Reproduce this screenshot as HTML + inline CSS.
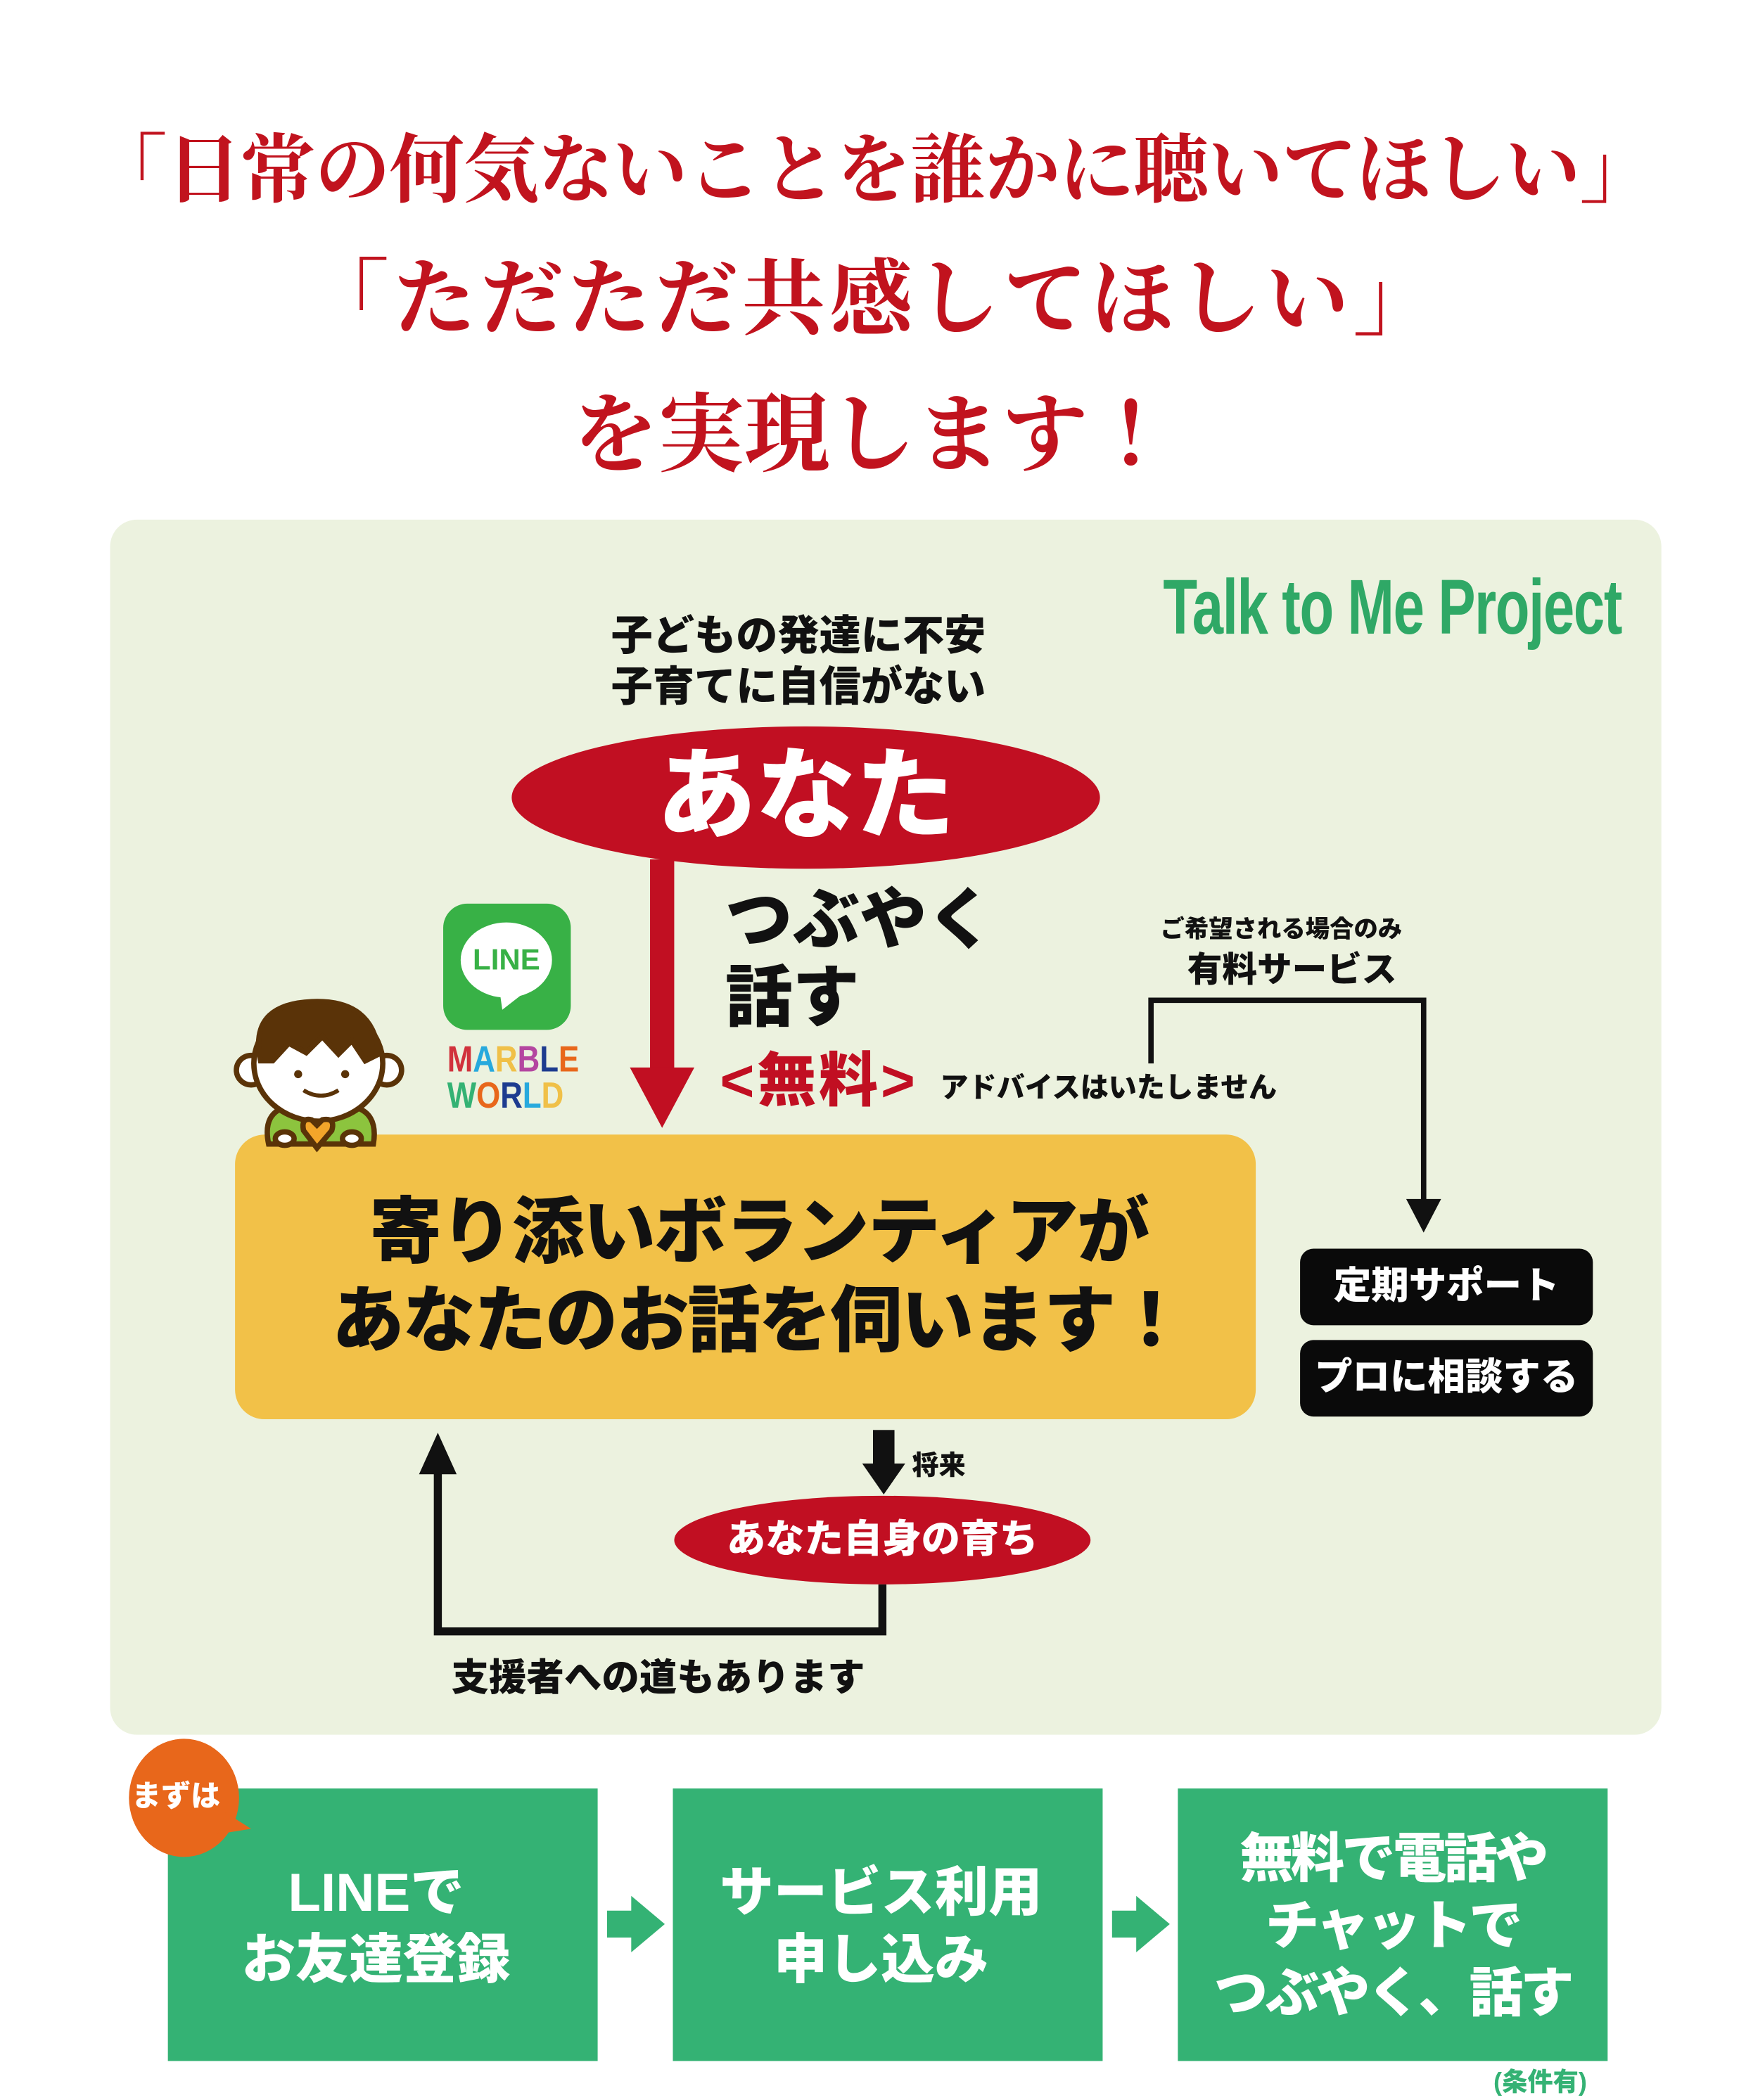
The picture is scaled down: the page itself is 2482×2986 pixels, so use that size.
<!DOCTYPE html>
<html><head><meta charset="utf-8"><style>
html,body{margin:0;padding:0;background:#fff;}
body{width:2482px;height:2966px;overflow:hidden;position:relative;}
#s{position:absolute;left:0;top:0;width:1300px;height:1553px;transform:scale(1.9092);transform-origin:0 0;}
.a{position:absolute;white-space:nowrap;}
.g{font-family:"Liberation Sans","Noto Sans CJK JP",sans-serif;font-weight:900;}
.t{font-family:"Liberation Serif","Noto Serif CJK JP","Noto Serif CJK SC",serif;font-weight:700;color:#c1131e;text-align:center;left:0;width:1300px;}
.c{text-align:center;}
</style></head><body><div id="s">
<div class="a t" style="top:93px;font-size:56px;line-height:70px;letter-spacing:-0.6px">「日常の何気ないことを誰かに聴いてほしい」</div>
<div class="a t" style="top:188px;font-size:62px;line-height:72px;letter-spacing:3px">「ただただ共感してほしい」</div>
<div class="a t" style="top:288px;font-size:64px;line-height:74px;">を実現します！</div>

<div class="a" style="left:82px;top:387px;width:1155px;height:905px;background:#ecf2df;border-radius:20px"></div>
<div class="a" style="left:866px;top:420px;font-family:'Liberation Sans Narrow','Liberation Sans',sans-serif;font-weight:700;color:#2fa866;font-size:58px;line-height:66px;transform:scaleX(0.72);transform-origin:0 0;letter-spacing:-1px">Talk to Me Project</div>

<div class="a g" style="left:455px;top:455px;font-size:31px;line-height:38px;color:#111">子どもの発達に不安<br>子育てに自信がない</div>

<svg class="a" style="left:0;top:0" width="1300" height="1553" viewBox="0 0 1300 1553">
 <ellipse cx="600" cy="594" rx="219" ry="53" fill="#c10f22"/>
 <rect x="484" y="640" width="18" height="160" fill="#c10f22"/>
 <polygon points="469,795 517,795 493,840" fill="#c10f22"/>
 <polyline points="857,792 857,745 1060,745 1060,898" fill="none" stroke="#111" stroke-width="4"/>
 <polygon points="1047,893 1073,893 1060,918" fill="#111"/>
 <rect x="175" y="845" width="760" height="212" rx="22" fill="#f2c148"/>
 <rect x="968" y="930" width="218" height="57" rx="10" fill="#0a0a0a"/>
 <rect x="968" y="998" width="218" height="57" rx="10" fill="#0a0a0a"/>
 <rect x="650" y="1065" width="16" height="28" fill="#111"/>
 <polygon points="642,1090 674,1090 658,1113" fill="#111"/>
 <ellipse cx="657" cy="1147" rx="155" ry="33" fill="#c10f22"/>
 <polyline points="657,1180 657,1215 326,1215 326,1092" fill="none" stroke="#111" stroke-width="6"/>
 <polygon points="312,1098 340,1098 326,1067" fill="#111"/>
 <rect x="330" y="673" width="95" height="94" rx="18" fill="#38b146"/>
 <ellipse cx="377" cy="715" rx="34" ry="28" fill="#fff"/>
 <polygon points="372,738 392,738 374,752" fill="#fff"/>
 <g stroke="#5a3308" stroke-width="4">
  <path d="M200,852 Q195,828 215,824 L262,824 Q282,828 278,852 Z" fill="#8cc43e"/>
  <circle cx="187" cy="797" r="11" fill="#fff"/>
  <circle cx="288" cy="797" r="11" fill="#fff"/>
  <ellipse cx="237" cy="792" rx="48" ry="43" fill="#fff"/>
  <path d="M194,790 Q185,748 232,746 Q278,744 282,785 L272,790 L262,775 L252,785 L240,772 L228,784 L215,777 L203,790 Z" fill="#5a3308"/>
  <ellipse cx="212" cy="848" rx="7" ry="5" fill="#fff"/>
  <ellipse cx="262" cy="848" rx="7" ry="5" fill="#fff"/>
  <path d="M236,855 L226,842 Q224,832 232,834 L236,838 L240,834 Q250,832 247,842 Z" fill="#f3a52a"/>
 </g>
 <circle cx="222" cy="800" r="3" fill="#5a3308"/><circle cx="257" cy="800" r="3" fill="#5a3308"/>
 <path d="M226,812 Q239,820 252,812" fill="none" stroke="#5a3308" stroke-width="3"/>
 <polygon points="452,1423 470,1423 470,1412 495,1433 470,1454 470,1443 452,1443" fill="#34b274"/>
 <polygon points="828,1423 846,1423 846,1412 871,1433 846,1454 846,1443 828,1443" fill="#34b274"/>
 <rect x="125" y="1332" width="320" height="203" fill="#34b274"/>
 <rect x="501" y="1332" width="320" height="203" fill="#34b274"/>
 <rect x="877" y="1332" width="320" height="203" fill="#34b274"/>
 <ellipse cx="137" cy="1339" rx="41" ry="44" fill="#e8671b"/>
 <polygon points="168,1350 187,1362 162,1366" fill="#e8671b"/>
</svg>

<div class="a" style="left:352px;top:702px;font-family:'Liberation Sans Narrow','Liberation Sans',sans-serif;font-weight:700;font-size:22px;color:#38b146;line-height:26px">LINE</div>
<div class="a" style="left:333px;top:776px;font-family:'Liberation Sans Narrow','Liberation Sans',sans-serif;font-weight:700;font-size:27px;line-height:27px;letter-spacing:0px;transform:scaleX(0.85);transform-origin:0 0"><span style="color:#d1323c">M</span><span style="color:#27a9dd">A</span><span style="color:#f0c048">R</span><span style="color:#b446a0">B</span><span style="color:#1d3b8f">L</span><span style="color:#e8671b">E</span><br><span style="color:#34b274">W</span><span style="color:#e8671b">O</span><span style="color:#1d3b8f">R</span><span style="color:#27a9dd">L</span><span style="color:#f0c048">D</span></div>

<div class="a g c" style="left:382px;top:548px;width:436px;font-size:74px;line-height:90px;color:#fff">あなた</div>
<div class="a g" style="left:540px;top:656px;font-size:50px;line-height:58px;color:#111">つぶやく<br>話す</div>
<div class="a g" style="left:536px;top:781px;font-size:44px;line-height:50px;color:#c10f22;letter-spacing:2px">&lt;無料&gt;</div>
<div class="a g" style="left:700px;top:798px;font-size:21px;line-height:26px;color:#111">アドバイスはいたしません</div>
<div class="a g" style="left:864px;top:680px;font-size:18px;line-height:24px;color:#111">ご希望される場合のみ</div>
<div class="a g" style="left:884px;top:706px;font-size:26px;line-height:32px;color:#111">有料サービス</div>
<div class="a g c" style="left:968px;top:939px;width:218px;font-size:28px;line-height:38px;color:#fff">定期サポート</div>
<div class="a g c" style="left:968px;top:1007px;width:218px;font-size:28px;line-height:38px;color:#fff">プロに相談する</div>
<div class="a g c" style="left:185px;top:885px;width:760px;font-size:54px;line-height:66px;color:#111;letter-spacing:-1px">寄り添いボランティアが<br>あなたのお話を伺います！</div>
<div class="a g" style="left:679px;top:1080px;font-size:20px;line-height:24px;color:#111">将来</div>
<div class="a g c" style="left:502px;top:1129px;width:310px;font-size:29px;line-height:36px;color:#fff">あなた自身の育ち</div>
<div class="a g" style="left:336px;top:1233px;font-size:28px;line-height:34px;color:#111">支援者への道もあります</div>

<div class="a g" style="left:98px;top:1324px;font-size:22px;line-height:28px;color:#fff">まずは</div>
<div class="a g c" style="left:120px;top:1385px;width:320px;font-size:40px;line-height:50px;color:#fff">LINEで<br>お友達登録</div>
<div class="a g c" style="left:496px;top:1385px;width:320px;font-size:40px;line-height:50px;color:#fff">サービス利用<br>申し込み</div>
<div class="a g c" style="left:877px;top:1360px;width:320px;font-size:40px;line-height:50px;color:#fff;letter-spacing:-2px">無料で電話や<br>チャットで<br>つぶやく、話す</div>
<div class="a g" style="left:1112px;top:1540px;font-size:19px;line-height:24px;color:#34b274">(条件有)</div>
</div></body></html>
